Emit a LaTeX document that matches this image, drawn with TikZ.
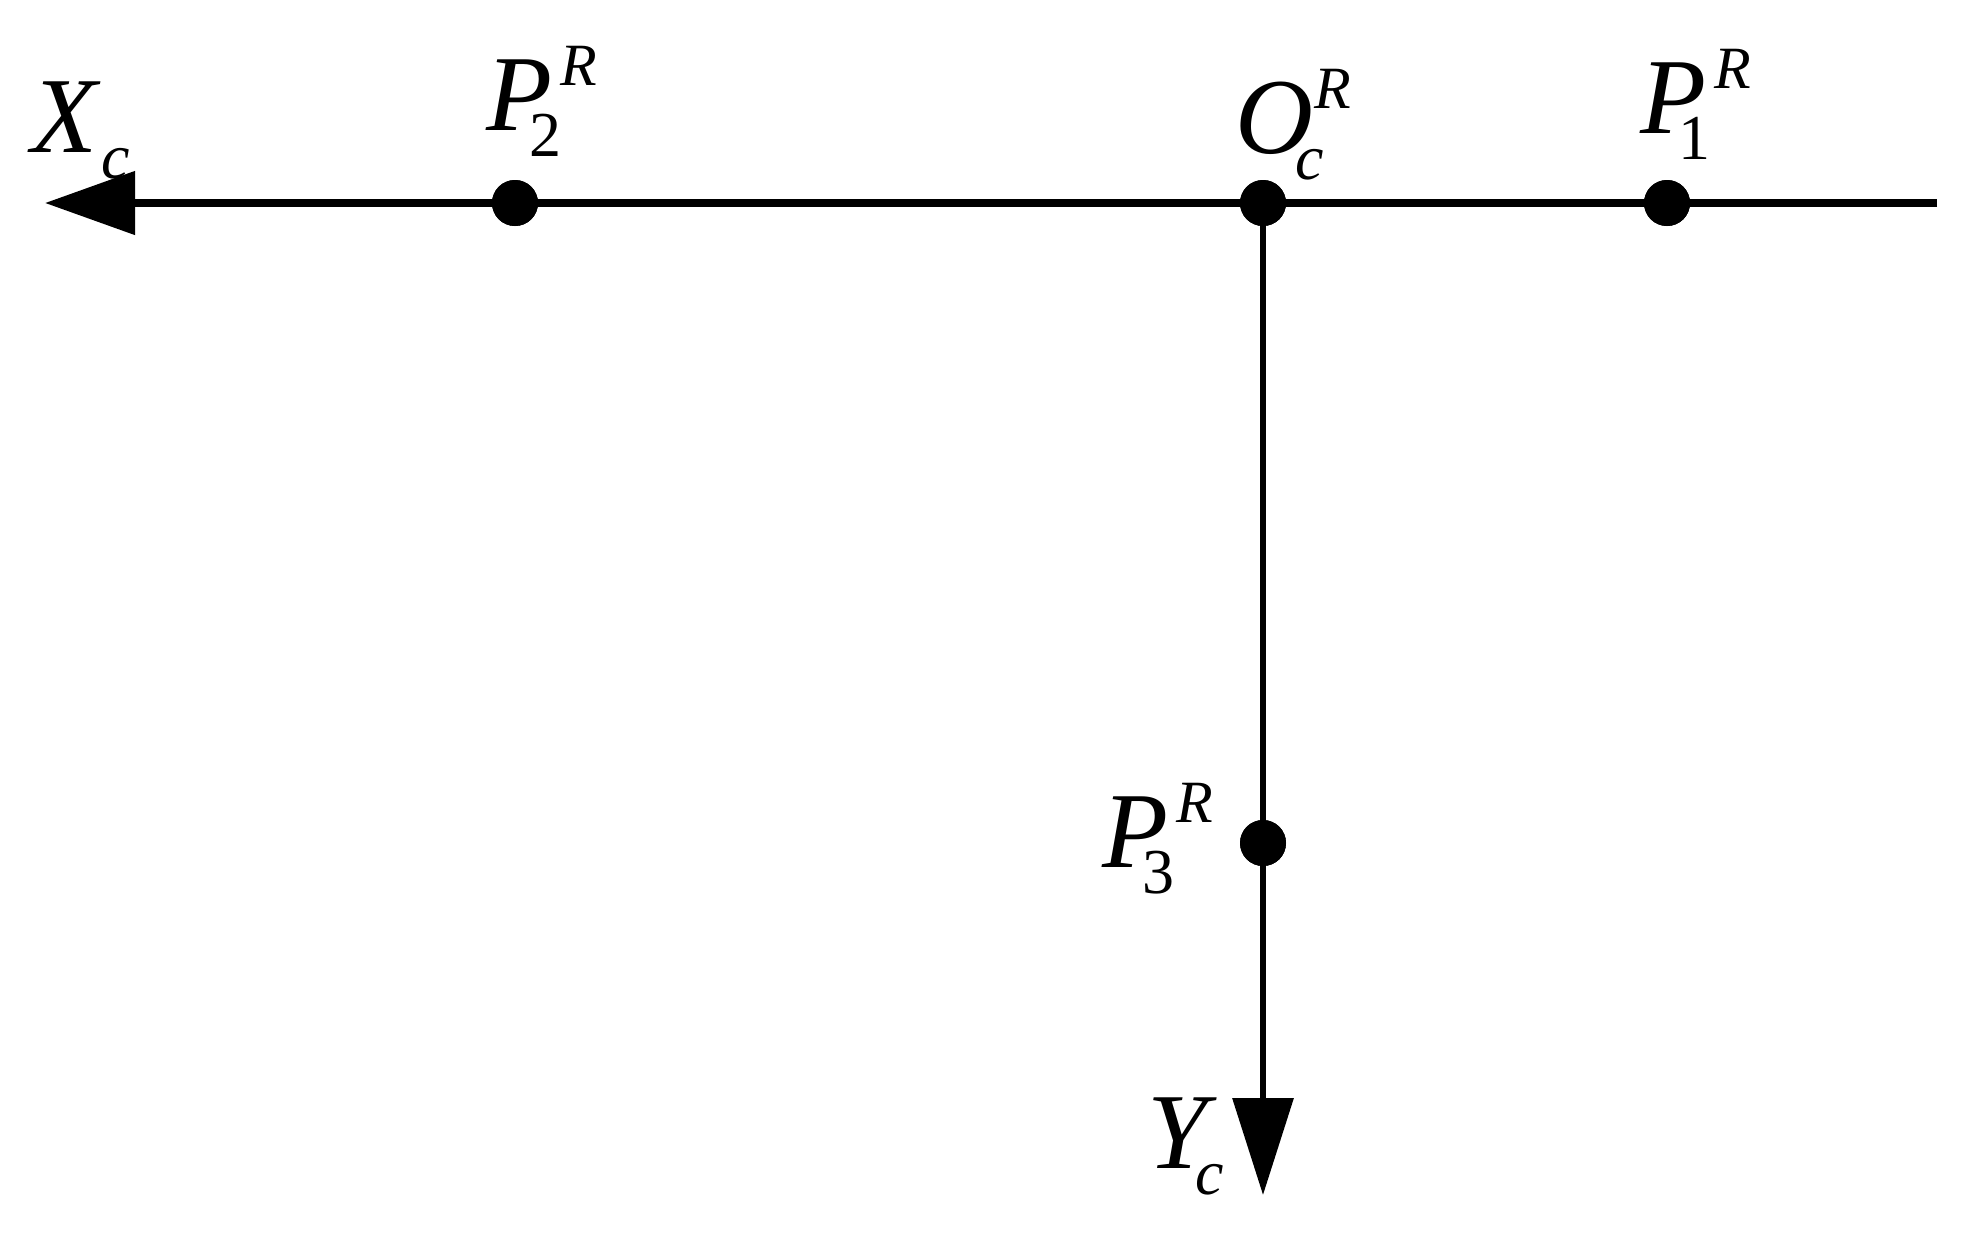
\documentclass[tikz,border=0pt]{standalone}
\usepackage{fontspec}
\setmainfont{Liberation Serif}
\usetikzlibrary{arrows.meta}
\newcommand{\supfont}{\fontsize{30}{32}\selectfont}
\newcommand{\subfont}{\fontsize{32}{34}\selectfont}
% #1 main letter, #2 superscript, #3 subscript, #4 kern back for subscript, #5 kern for superscript
\newcommand{\lab}[5]{\textit{#1}\rlap{\kern#5\raisebox{22.5pt}{\supfont\textit{#2}}}\kern-#4\raisebox{-13pt}{\subfont #3}}
\begin{document}
\begin{tikzpicture}[x=0.5pt,y=-0.5pt,
  dot/.style={circle,fill=black,inner sep=0pt,minimum size=23pt},
  lbl/.style={anchor=base west,inner sep=0pt,font=\fontsize{54}{60}\selectfont},
  haxis/.style={line width=4pt,-{Triangle[length=45pt,width=31pt]}},
  vaxis/.style={line width=3.2pt,-{Triangle[length=48.5pt,width=30pt]}}]
\useasboundingbox[fill=white] (0,0) rectangle (1973,1233);
% points
\coordinate (xend) at (45,203);
\coordinate (rend) at (1937,203);
\coordinate (yend) at (1263,1195);
\node[dot] (O) at (1263,203) {};
\node[dot] (P1) at (1667,203) {};
\node[dot] (P2) at (515,203) {};
\node[dot] (P3) at (1263,843) {};
% axes
\draw[haxis] (rend) -- (xend);
\draw[vaxis] (O.center) -- (yend);
\node[dot] at (O) {};
\node[dot] at (P1) {};
\node[dot] at (P2) {};
\node[dot] at (P3) {};
% labels
\node[lbl] (lX) at (31,152) {\lab{X}{}{\textit{c}}{-0.5pt}{0pt}};
\node[lbl] (lP2) at (486,130) {\lab{P}{R}{2}{11.5pt}{4pt}};
\node[lbl] (lO) at (1235,153) {\lab{O}{R}{\textit{c}}{9pt}{0.5pt}};
\node[lbl] (lP1) at (1640,133) {\lab{P}{R}{1}{14pt}{4pt}};
\node[lbl] (lP3) at (1102,867) {\lab{P}{R}{3}{13pt}{4pt}};
\node[lbl] (lY) at (1147,1168) {\lab{Y}{}{\textit{c}}{11pt}{0pt}};
\end{tikzpicture}
\end{document}
